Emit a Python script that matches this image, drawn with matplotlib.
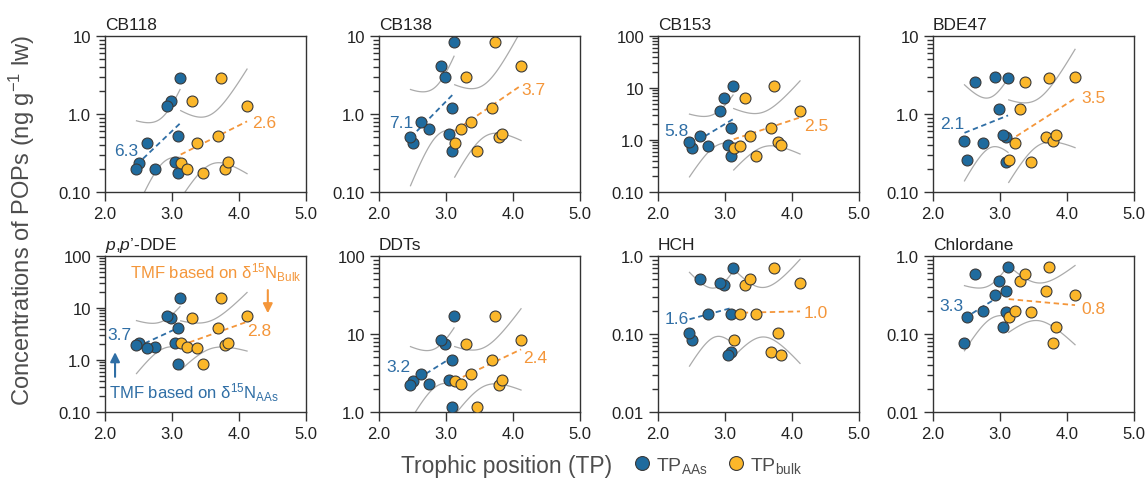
import numpy as np
import matplotlib
matplotlib.use('Agg')
import matplotlib.pyplot as plt
from matplotlib.ticker import FuncFormatter, NullFormatter, FixedLocator
from matplotlib.lines import Line2D

plt.rcParams['font.family'] = ['Liberation Sans', 'DejaVu Sans']
plt.rcParams['mathtext.fontset'] = 'custom'
plt.rcParams['mathtext.rm'] = 'Liberation Sans'
plt.rcParams['mathtext.it'] = 'Liberation Sans:italic'
plt.rcParams['mathtext.bf'] = 'Liberation Sans:bold'

# trophic positions of the 10 species (same order in every panel)
tp_aas = [2.50, 2.75, 2.99, 2.63, 3.09, 3.09, 3.12, 2.47, 3.04, 2.93]
tp_bulk = [3.13, 3.23, 3.30, 3.37, 3.46, 3.69, 3.73, 3.79, 3.84, 4.12]

# concentrations (ng/g lw)
cb118 = [0.237, 0.20, 1.48, 0.42, 0.177, 0.53, 2.88, 0.195, 0.24, 1.27]
cb138 = [0.43, 0.65, 2.97, 0.78, 0.34, 1.19, 8.45, 0.50, 0.55, 4.07]
cb153 = [0.69, 0.77, 6.5, 1.19, 0.50, 1.67, 10.8, 0.90, 0.80, 3.64]
bde47 = [0.26, 0.42, 1.16, 2.6, 0.245, 0.51, 2.87, 0.45, 0.54, 2.95]
dde = [2.1, 1.81, 6.4, 1.73, 0.82, 4.2, 15.4, 1.92, 2.16, 6.9]
ddts = [2.47, 2.31, 7.37, 3.07, 1.17, 4.69, 17.2, 2.24, 2.6, 8.45]
hch = [0.084, 0.181, 0.42, 0.51, 0.182, 0.059, 0.70, 0.104, 0.054, 0.45]
chlordane = [0.164, 0.20, 0.476, 0.59, 0.192, 0.36, 0.72, 0.076, 0.122, 0.32]

names = ['CB118', 'CB138', 'CB153', 'BDE47', r'$\it{p}$,$\it{p}$’-DDE', 'DDTs', 'HCH', 'Chlordane']
concs = [cb118, cb138, cb153, bde47, dde, ddts, hch, chlordane]
tmf_aas = ['6.3', '7.1', '5.8', '2.1', '3.7', '3.2', '1.6', '3.3']
tmf_bulk = ['2.6', '3.7', '2.5', '3.5', '2.8', '2.4', '1.0', '0.8']

ylims = [(0.1, 10), (0.1, 10), (0.1, 100), (0.1, 10), (0.1, 100), (1, 100), (0.01, 1), (0.01, 1)]
# label positions (data coords)
pos_aas = [(2.32, 0.34), (2.33, 0.78), (2.28, 1.55), (2.28, 0.75), (2.21, 3.1), (2.29, 3.85), (2.28, 0.156), (2.28, 0.23)]
pos_bulk = [(4.38, 0.77), (4.31, 2.06), (4.36, 1.88), (4.40, 1.63), (4.30, 3.64), (4.33, 5.07), (4.36, 0.19), (4.40, 0.21)]

blue = '#1f6b9e'
orange = '#fbb72a'
blue_txt = '#2f6ea5'
orange_txt = '#f4963a'
band_col = '#ababab'
dark = '#333333'

lefts = [105, 379, 658, 933]
tops = [37, 257]
W, H = 1148, 485

fig = plt.figure(figsize=(W / 100, H / 100), dpi=100)


def fit_band(x, y):
    x = np.asarray(x)
    ly = np.log10(y)
    n = len(x)
    b, a = np.polyfit(x, ly, 1)
    res = ly - (a + b * x)
    s = np.sqrt(np.sum(res ** 2) / (n - 2))
    sxx = np.sum((x - x.mean()) ** 2)
    xs = np.linspace(x.min(), x.max(), 100)
    pred = a + b * xs
    se = s * np.sqrt(1 / n + (xs - x.mean()) ** 2 / sxx)
    t = 2.306  # t(0.975, df=8)
    return xs, 10 ** pred, 10 ** (pred - t * se), 10 ** (pred + t * se)


def yfmt(v, pos):
    if v >= 10:
        return '%d' % round(v)
    if v >= 1:
        return '1.0'
    return '%.2f' % v


for i in range(8):
    r, c = divmod(i, 4)
    ax = fig.add_axes([lefts[c] / W, 1 - (tops[r] + 156) / H, 201 / W, 156 / H])
    y = concs[i]
    for xdat, col in [(tp_aas, blue_txt), (tp_bulk, orange_txt)]:
        xs, p, lo, hi = fit_band(xdat, y)
        ax.plot(xs, lo, color=band_col, lw=0.9, zorder=1)
        ax.plot(xs, hi, color=band_col, lw=0.9, zorder=1)
        ax.plot(xs, p, color=col, lw=1.3, ls=(0, (3, 2)), zorder=2)
    ax.scatter(tp_aas, y, s=62, c=blue, edgecolors='#3a3a3a', linewidths=0.8, zorder=3)
    ax.scatter(tp_bulk, y, s=62, c=orange, edgecolors='#3a3a3a', linewidths=0.8, zorder=4)
    ax.text(*pos_aas[i], tmf_aas[i], color=blue_txt, fontsize=12.5, ha='center', va='center')
    ax.text(*pos_bulk[i], tmf_bulk[i], color=orange_txt, fontsize=12.5, ha='center', va='center')

    lo_y, hi_y = ylims[i]
    ax.set_yscale('log')
    ax.set_ylim(lo_y, hi_y)
    ax.set_xlim(2.0, 5.0)
    e0, e1 = int(round(np.log10(lo_y))), int(round(np.log10(hi_y)))
    majors = [10.0 ** e for e in range(e0, e1 + 1)]
    minors = [m * 10.0 ** e for e in range(e0, e1) for m in range(2, 10)]
    ax.xaxis.set_major_locator(FixedLocator([2.0, 3.0, 4.0, 5.0]))
    ax.xaxis.set_major_formatter(FuncFormatter(lambda v, p: '%.1f' % v))
    ax.yaxis.set_major_locator(FixedLocator(majors))
    ax.yaxis.set_minor_locator(FixedLocator(minors))
    ax.yaxis.set_minor_formatter(NullFormatter())
    ax.yaxis.set_major_formatter(FuncFormatter(yfmt))
    ax.tick_params(which='major', direction='out', length=6.5, width=1.0, color=dark,
                   labelsize=12, labelcolor='#222222')
    ax.tick_params(axis='y', which='minor', direction='out', length=4.5, width=1.0, color=dark, left=True)
    for sp in ax.spines.values():
        sp.set_color(dark)
        sp.set_linewidth(1.0)
    ax.set_title(names[i], loc='left', fontsize=12.5, color='#222222', pad=5)

    if i == 4:
        ax.text(4.93, 49, 'TMF based on δ$^{15}$N$_{\\mathrm{Bulk}}$', color=orange_txt,
                fontsize=12, ha='right', va='center')
        ax.annotate('', xy=(4.43, 7.0), xytext=(4.43, 25),
                    arrowprops=dict(arrowstyle='-|>', color=orange_txt, lw=1.5, mutation_scale=14))
        ax.text(2.06, 0.25, 'TMF based on δ$^{15}$N$_{\\mathrm{AAs}}$', color=blue_txt,
                fontsize=12, ha='left', va='center')
        ax.annotate('', xy=(2.15, 1.6), xytext=(2.15, 0.42),
                    arrowprops=dict(arrowstyle='-|>', color=blue_txt, lw=1.5, mutation_scale=14))

fig.text(22 / W, 0.546, 'Concentrations of POPs (ng g$^{-1}$ lw)', rotation=90,
         ha='center', va='center', fontsize=17, color='#4d4d4d')
fig.text(507 / W, 1 - 467 / H, 'Trophic position (TP)', ha='center', va='center',
         fontsize=16.5, color='#4d4d4d')

handles = [Line2D([], [], ls='none', marker='o', markersize=10, markerfacecolor=blue,
                  markeredgecolor='#3a3a3a', markeredgewidth=0.8),
           Line2D([], [], ls='none', marker='o', markersize=10, markerfacecolor=orange,
                  markeredgecolor='#3a3a3a', markeredgewidth=0.8)]
leg = fig.legend(handles, ['TP$_{\\mathrm{AAs}}$', 'TP$_{\\mathrm{bulk}}$'], loc='center left',
                 bbox_to_anchor=(613 / W, 1 - 466 / H), frameon=False, ncol=2, fontsize=14,
                 handletextpad=0.1, columnspacing=0.9, handlelength=1.2)
for t in leg.get_texts():
    t.set_color('#4d4d4d')

fig.savefig('out.png', dpi=100)
